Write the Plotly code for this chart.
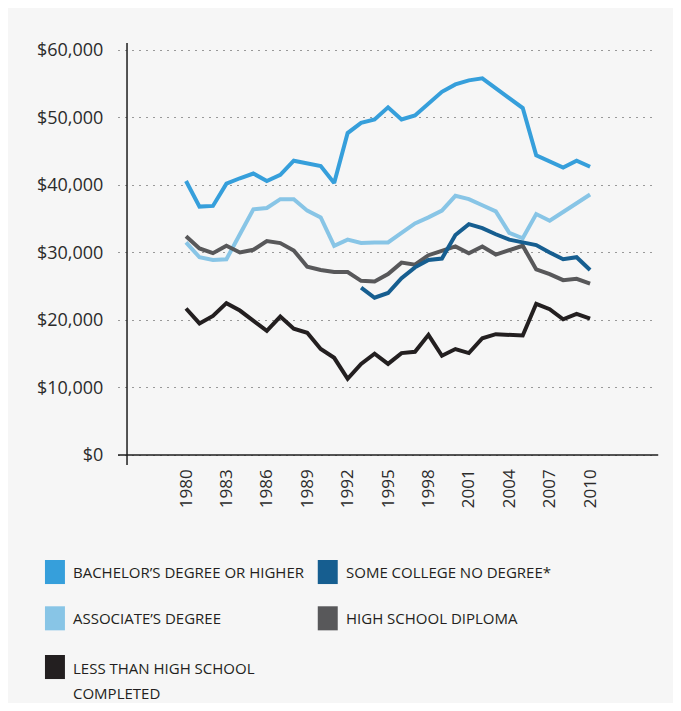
import plotly.graph_objects as go

# Data (median earnings by education level)
years = list(range(1980, 2011))

bachelor = [40600, 36800, 36900, 40200, 41000, 41700, 40600, 41500, 43600, 43200,
            42800, 40300, 47700, 49200, 49700, 51500, 49700, 50300, 52000, 53800,
            54900, 55500, 55800, 54300, 52800, 51400, 44400, 43500, 42600, 43600,
            42700]
associate = [31500, 29300, 28900, 29000, 32700, 36400, 36600, 37900, 37900, 36200,
             35200, 31000, 31900, 31400, 31500, 31500, 32900, 34300, 35200, 36200,
             38400, 37900, 37000, 36100, 32900, 32100, 35700, 34700, 36000, 37300,
             38600]
some_college = [None] * 13 + [24800, 23300, 24000, 26200, 27800, 28900, 29100, 32600,
                              34200, 33600, 32700, 31900, 31500, 31100, 30000, 29000,
                              29300, 27400]
high_school = [32400, 30600, 29900, 31000, 30000, 30400, 31700, 31400, 30300, 27900,
               27400, 27100, 27100, 25800, 25700, 26800, 28500, 28200, 29600, 30300,
               30900, 29900, 30900, 29700, 30300, 31000, 27500, 26800, 25900, 26100,
               25400]
less_hs = [21700, 19500, 20600, 22500, 21400, 19900, 18400, 20500, 18700, 18100,
           15700, 14400, 11300, 13500, 15000, 13500, 15100, 15300, 17800, 14700,
           15700, 15100, 17300, 17900, 17800, 17700, 22400, 21600, 20100, 20900,
           20200]

x_ticks = list(range(1980, 2011, 3))
y_ticks = list(range(0, 60001, 10000))

series = [
    ("BACHELOR’S DEGREE OR HIGHER", bachelor, "#369fdb"),
    ("SOME COLLEGE NO DEGREE*", some_college, "#165e90"),
    ("ASSOCIATE’S DEGREE", associate, "#88c5e6"),
    ("HIGH SCHOOL DIPLOMA", high_school, "#58585a"),
    ("LESS THAN HIGH SCHOOL<br>COMPLETED", less_hs, "#231f20"),
]

bg = "#f6f6f6"
text_color = "#2b2b2b"

fig = go.Figure()

# draw order: light lines first, dark ones on top
for idx in [0, 2, 3, 1, 4]:
    name, values, color = series[idx]
    fig.add_trace(go.Scatter(
        x=years,
        y=values,
        mode="lines",
        name=name,
        line=dict(color=color, width=4),
        connectgaps=False,
        showlegend=False,
    ))

# axis lines (y axis sits a little inside the plot area, like the original)
fig.add_shape(type="line", xref="x", yref="paper", x0=1975.62, x1=1975.62, y0=0, y1=1,
              line=dict(color="#1e1e1e", width=1.5))
fig.add_shape(type="line", xref="paper", yref="y", x0=0, x1=1.006, y0=0, y1=0,
              line=dict(color="#1e1e1e", width=1.5))

# legend: two columns of coloured squares and labels below the plot
legend_cols = [-0.136, 0.372]
square_rows = [-0.2536, -0.3633, -0.4787]
text_rows = [-0.2547, -0.3637, -0.4810]
line_step = 0.0593
for i, (name, values, color) in enumerate(series):
    col = legend_cols[i % 2]
    fig.add_shape(type="rect", xref="paper", yref="paper",
                  x0=col, x1=col + 0.0372,
                  y0=square_rows[i // 2] - 0.0285, y1=square_rows[i // 2] + 0.0285,
                  fillcolor=color, line_width=0)
    for k, part in enumerate(name.split("<br>")):
        fig.add_annotation(
            xref="paper", yref="paper", x=col + 0.048, y=text_rows[i // 2] - k * line_step,
            xanchor="left", yanchor="middle", align="left",
            text=part, showarrow=False,
            font=dict(family="Open Sans, sans-serif", size=15, color="#231f20"),
        )

fig.update_layout(
    width=665,
    height=695,
    margin=dict(l=110, r=18, t=35, b=238),
    paper_bgcolor=bg,
    plot_bgcolor=bg,
    showlegend=False,
    font=dict(family="Open Sans, sans-serif", size=18, color=text_color),
)

fig.update_xaxes(
    range=[1974.95, 2014.82],
    tickvals=x_ticks,
    tickangle=-90,
    showgrid=False,
    zeroline=False,
    showline=False,
    ticks="",
    tickfont=dict(size=17),
)

fig.update_yaxes(
    range=[-1481, 61037],
    tickvals=y_ticks,
    tickformat="$,.0f",
    showgrid=True,
    gridcolor="#999999",
    griddash="2px,5px",
    gridwidth=1.2,
    zeroline=False,
    showline=False,
    ticks="outside",
    ticklen=10,
    tickcolor=bg,
)

fig.write_html("out.html")
